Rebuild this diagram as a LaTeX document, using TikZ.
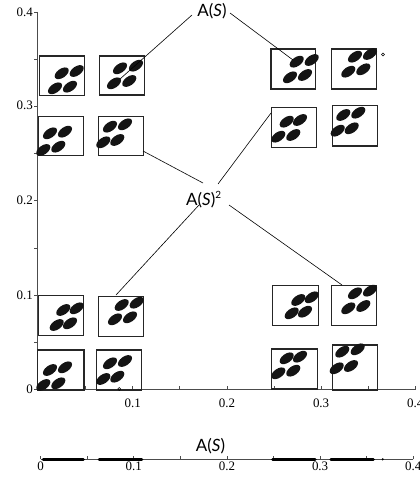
\documentclass[tikz,border=0pt]{standalone}
\usepackage{fontspec}
\setmainfont{Liberation Serif}
\newfontfamily\labfont{Lato}
\begin{document}
\begin{tikzpicture}[x=1bp,y=-1bp,
  boxst/.style={draw=black!85, line width=1.2bp},
  axisst/.style={draw=black!70, line width=0.8bp},
  connst/.style={draw=black, line width=0.6bp},
  ticklab/.style={font=\fontsize{13}{13}\selectfont, inner sep=0pt},
  biglab/.style={font=\labfont\fontsize{17}{18}\selectfont, inner sep=0pt},
  blobst/.style={fill=black!92},
  markst/.style={draw=black, line width=0.5bp}]
\useasboundingbox (0,0) rectangle (419,486);

% axes of the upper plot
\draw[axisst] (37,12) -- (37,389.5) -- (415.3,389.5);
\foreach \v in {0,...,8} \draw[axisst] (37,{389.5-\v*47.19}) -- ++(-3.5,0);
\foreach \v in {0,...,8} \draw[axisst] ({38.5+\v*47.1},389.5) -- ++(0,-3.5);
\node[ticklab, anchor=east] (y4) at (33,12) {0.4};
\node[ticklab, anchor=east] (y3) at (33,105.5) {0.3};
\node[ticklab, anchor=east] (y2) at (33,200) {0.2};
\node[ticklab, anchor=east] (y1) at (33,295) {0.1};
\node[ticklab, anchor=east] (y0) at (33,389.5) {0};
\node[ticklab] (x1) at (132.7,403) {0.1};
\node[ticklab] (x2) at (226.9,403) {0.2};
\node[ticklab] (x3) at (321.1,403) {0.3};
\node[ticklab] (x4) at (415.3,403) {0.4};

% boxes
\foreach \a/\b/\c/\d in {39.3/56/84.3/95.7, 99.3/56/144.3/95, 38.3/116.7/83.3/155.7, 98.3/116.7/143.3/155.7,
  271/49/315.7/89, 331.7/49/376.7/89, 271.7/107.7/316.7/147.3, 332.7/105.7/377.7/146,
  38.3/295.7/83.3/335.7, 98.3/296.7/143.3/336.7, 37.3/350/84/390, 96.7/350/141.7/390,
  272.3/285.7/318.3/325.7, 331.7/285.7/376.7/325.7, 271.7/349/317.3/389, 332.7/345/377.7/390}
  \draw[boxst] (\a,\b) rectangle (\c,\d);

% blobs
\foreach \p/\q in {61.7/73.3, 76.7/71, 55/88.3, 70/86.7,
  120/68.3, 136/65.7, 114/83.3, 129.3/81,
  50/133.3, 65/131.7, 43.3/150, 58.3/146.7,
  110/126.7, 125/124.3, 103.3/142.3, 117.3/140,
  296.7/61.7, 311.7/60, 290/77.3, 305/75,
  355/56.7, 370/54, 348.3/71.7, 363.3/69.3,
  286.7/121.7, 300/120, 278.3/136.7, 293.3/135,
  343.3/115, 358.3/112.7, 337.7/130.7, 351.7/128.3,
  63.3/310, 76.7/308.3, 56.7/325, 70/323.3,
  121.7/305, 136.7/302.7, 115/319.3, 130/317.3,
  50/370, 65/367.3, 43.3/385, 58.3/383.3,
  110/363.3, 125/361, 103.3/379, 117.3/376.7,
  298.3/300, 311.7/297.3, 291.7/313.3, 305/311.7,
  355/293.3, 370/290.7, 348.3/308.3, 363.3/306,
  286.7/358.3, 300/356.7, 278.3/373.3, 293.3/370.7,
  342.3/351.7, 357.7/349.3, 336.7/368.3, 351/366}
  \fill[blobst, rotate around={35:(\p,\q)}] (\p,\q) ellipse [x radius=8bp, y radius=4.5bp];

% isolated points
\draw[markst] (383,54.5) circle [radius=1.5bp];
\draw[markst] (119.3,389) circle [radius=1.5bp];

% labels
\node[biglab, anchor=base] (ls) at (212,17) {A(\textit{S})};
\node[biglab, anchor=base west] (ls2) at (186,205) {A(\textit{S})\textsuperscript{\fontsize{10}{10}\selectfont 2}};
\node[biglab, anchor=base] (lb) at (210.5,451) {A(\textit{S})};

% connector ends
\coordinate (s1) at (192,15);   \coordinate (t1) at (120,79);
\coordinate (s2) at (230,13);   \coordinate (t2) at (293,60);
\coordinate (s3) at (203,183);  \coordinate (t3) at (143,151);
\coordinate (s4) at (218,184);  \coordinate (t4) at (271,113);
\coordinate (s5) at (199,205);  \coordinate (t5) at (116,295);
\coordinate (s6) at (229,205);  \coordinate (t6) at (342,285);
\foreach \i in {1,...,6} \draw[connst] (s\i) -- (t\i);

% bottom number line
\draw[axisst] (40.5,459.3) -- (413.3,459.3);
\foreach \v in {0,...,8} \draw[axisst] ({40.5+\v*46.6},459.3) -- ++(0,-3);
\foreach \a/\b in {43.3/83.3, 99.3/141.7, 272.7/315, 331/373.3}
  \draw[line width=3.5bp, line cap=round] (\a,459.3) -- (\b,459.3);
\fill (382.7,459.3) circle [radius=1.2bp];
\node[ticklab, anchor=north] (b0) at (40.5,462) {0};
\node[ticklab, anchor=north] (b1) at (133.7,462) {0.1};
\node[ticklab, anchor=north] (b2) at (226.9,462) {0.2};
\node[ticklab, anchor=north] (b3) at (320.1,462) {0.3};
\node[ticklab, anchor=north] (b4) at (413.3,462) {0.4};
\end{tikzpicture}
\end{document}
